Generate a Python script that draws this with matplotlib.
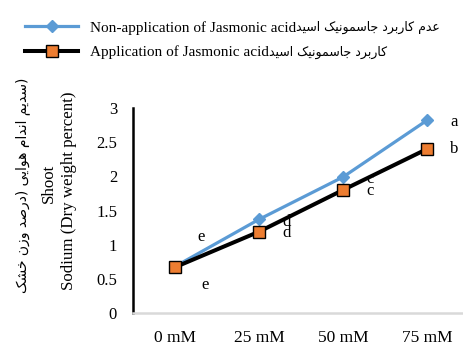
import matplotlib
matplotlib.use("Agg")
import matplotlib.pyplot as plt
from matplotlib.lines import Line2D

# ---------------- data ----------------
categories = ['0 mM', '25 mM', '50 mM', '75 mM']
non_application = [0.68, 1.37, 1.99, 2.82]
application = [0.67, 1.19, 1.80, 2.40]
letters_non = ['e', 'd', 'c', 'a']
letters_app = ['e', 'd', 'c', 'b']
yticks = [0, 0.5, 1, 1.5, 2, 2.5, 3]
label_non_en = 'Non-application of Jasmonic acid'
label_non_fa = 'عدم کاربرد جاسمونیک اسید'
label_app_en = 'Application of Jasmonic acid'
label_app_fa = 'کاربرد جاسمونیک اسید'
ylabel_fa_words = ['سدیم', 'اندام', 'هوایی', 'درصد', 'وزن', 'خشک']
ylabel_en1 = 'Shoot'
ylabel_en2 = 'Sodium (Dry weight percent)'

# ------------- simple Arabic/Persian shaping (presentation forms) -------------
FORMS = {  # isolated, final, initial, medial
    'ا': ('\uFE8D', '\uFE8E', None, None),
    'ب': ('\uFE8F', '\uFE90', '\uFE91', '\uFE92'),
    'ج': ('\uFE9D', '\uFE9E', '\uFE9F', '\uFEA0'),
    'خ': ('\uFEA5', '\uFEA6', '\uFEA7', '\uFEA8'),
    'د': ('\uFEA9', '\uFEAA', None, None),
    'ر': ('\uFEAD', '\uFEAE', None, None),
    'ز': ('\uFEAF', '\uFEB0', None, None),
    'س': ('\uFEB1', '\uFEB2', '\uFEB3', '\uFEB4'),
    'ش': ('\uFEB5', '\uFEB6', '\uFEB7', '\uFEB8'),
    'ص': ('\uFEB9', '\uFEBA', '\uFEBB', '\uFEBC'),
    'ع': ('\uFEC9', '\uFECA', '\uFECB', '\uFECC'),
    'ل': ('\uFEDD', '\uFEDE', '\uFEDF', '\uFEE0'),
    'م': ('\uFEE1', '\uFEE2', '\uFEE3', '\uFEE4'),
    'ن': ('\uFEE5', '\uFEE6', '\uFEE7', '\uFEE8'),
    'ه': ('\uFEE9', '\uFEEA', '\uFEEB', '\uFEEC'),
    'و': ('\uFEED', '\uFEEE', None, None),
    'ک': ('\uFB8E', '\uFB8F', '\uFB90', '\uFB91'),
    'ی': ('\uFBFC', '\uFBFD', '\uFBFE', '\uFBFF'),
}


def dual(c):
    return c in FORMS and FORMS[c][2] is not None


def shape_word(w):
    out = []
    n = len(w)
    for i, c in enumerate(w):
        if c not in FORMS:
            out.append(c)
            continue
        prev_joins = i > 0 and dual(w[i - 1])
        next_exists = i < n - 1 and w[i + 1] in FORMS
        can_next = dual(c) and next_exists
        iso, fin, ini, med = FORMS[c]
        if prev_joins and can_next:
            out.append(med)
        elif prev_joins:
            out.append(fin)
        elif can_next:
            out.append(ini)
        else:
            out.append(iso)
    return ''.join(reversed(out))


def shape_line(s):
    return ' '.join(shape_word(w) for w in reversed(s.split()))


fa_y = ylabel_fa_words
ylabel_fa = (f"{shape_word(fa_y[5])} {shape_word(fa_y[4])} {shape_word(fa_y[3])}) "
             f"{shape_word(fa_y[2])} {shape_word(fa_y[1])} {shape_word(fa_y[0])})")

# ---------------- plotting ----------------
serif = ['Liberation Serif', 'DejaVu Sans']
plt.rcParams['font.family'] = serif

fig = plt.figure(figsize=(4.64, 3.45), dpi=100)
ax = fig.add_axes([133 / 464, 1 - 313 / 345, 1 - 133 / 464, 205 / 345])

x = list(range(len(categories)))
blue = '#5B9BD5'
orange = '#ED7D31'
ax.plot(x, non_application, color=blue, lw=2.3, marker='D', ms=6.5,
        mfc=blue, mec=blue, zorder=3)
ax.plot(x, application, color='black', lw=2.9, marker='s', ms=9,
        mfc=orange, mec='black', mew=1.0, zorder=4)

ax.set_xlim(-0.5, -0.5 + 331 / 84)
ax.set_ylim(0, 3)
ax.set_yticks(yticks)
ax.set_yticklabels([f'{t:g}' for t in yticks], fontsize=12)
ax.set_xticks(x)
ax.set_xticklabels(categories, fontsize=12.5)
ax.tick_params(axis='both', length=0)
ax.tick_params(axis='y', pad=11.5)
ax.tick_params(axis='x', pad=12)
for s in ['top', 'right']:
    ax.spines[s].set_visible(False)
ax.spines['left'].set_linewidth(1.8)
ax.spines['left'].set_color('black')
ax.spines['bottom'].set_linewidth(1.8)
ax.spines['bottom'].set_color('#D9D9D9')

off_non = [(18.5, 21.5), (19.5, -2.0), (19.5, -1.5), (19.5, -1.0)]
off_app = [(22.0, -12.5), (19.5, -1.0), (19.5, -0.5), (19.5, 0.0)]
for i in x:
    ax.annotate(letters_non[i], (x[i], non_application[i]), xytext=off_non[i],
                textcoords='offset points', ha='center', va='center',
                fontsize=12, zorder=2, annotation_clip=False)
    ax.annotate(letters_app[i], (x[i], application[i]), xytext=off_app[i],
                textcoords='offset points', ha='center', va='center',
                fontsize=12, zorder=2, annotation_clip=False)

h1 = Line2D([], [], color=blue, lw=2.3, marker='D', ms=6.5, mfc=blue, mec=blue)
h2 = Line2D([], [], color='black', lw=2.9, marker='s', ms=8, mfc=orange, mec='black')
leg = fig.legend([h1, h2], [label_non_en, label_app_en],
                 loc='upper left', bbox_to_anchor=(25 / 464, 1 - 21 / 345), frameon=False,
                 fontsize=11, handlelength=3.5, handletextpad=0.75, labelspacing=0.7,
                 borderaxespad=0, borderpad=0)

# Persian part of each legend entry, placed right after the English text
fig.canvas.draw()
W, H = fig.bbox.width, fig.bbox.height
for txt, fa in zip(leg.get_texts(), [label_non_fa, label_app_fa]):
    bb = txt.get_window_extent()
    fig.text(bb.x1 / W, (bb.y0 + bb.y1) / 2 / H, shape_line(fa), ha='left', va='center',
             fontsize=9, family=['DejaVu Sans'])

fig.text(23 / 464, 1 - 185 / 345, ylabel_fa, rotation=90, ha='center', va='center',
         fontsize=10, family=['DejaVu Sans'])
fig.text(49 / 464, 1 - 183 / 345, ylabel_en1, rotation=90, ha='center', va='center',
         fontsize=12.2)
fig.text(69 / 464, 1 - 191 / 345, ylabel_en2, rotation=90, ha='center', va='center',
         fontsize=12.2)

fig.savefig('out.png', dpi=100)
